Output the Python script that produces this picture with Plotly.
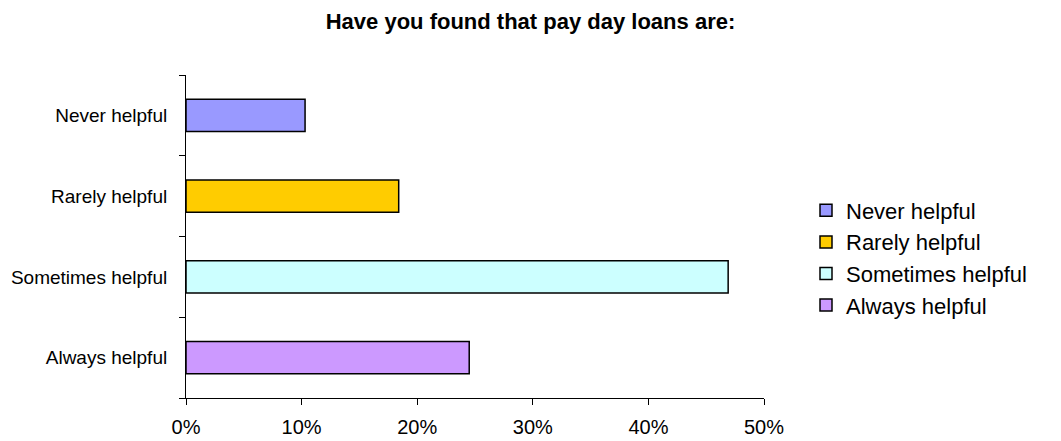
import plotly.graph_objects as go

# Survey responses: share of respondents per answer
categories = ["Never helpful", "Rarely helpful", "Sometimes helpful", "Always helpful"]
shares = [0.103, 0.184, 0.469, 0.245]
colors = ["#9999FF", "#FFCC00", "#CCFFFF", "#CC99FF"]

x_ticks = [0, 0.1, 0.2, 0.3, 0.4, 0.5]
x_tick_labels = ["0%", "10%", "20%", "30%", "40%", "50%"]

FONT = "Liberation Sans, Arial, sans-serif"

fig = go.Figure()
for cat, val, col in zip(categories, shares, colors):
    fig.add_trace(go.Bar(
        y=[cat], x=[val], name=cat, orientation="h",
        width=0.4,
        marker=dict(color=col, line=dict(color="black", width=1.5)),
    ))

fig.update_layout(
    width=1061, height=441,
    margin=dict(l=186, r=297, t=75, b=43, autoexpand=False),
    paper_bgcolor="white", plot_bgcolor="white",
    barmode="overlay",
    font=dict(family=FONT, color="black"),
    title=dict(
        text="<b>Have you found that pay day loans are:</b>",
        font=dict(family=FONT, size=22, color="black"),
        x=0.5, xref="container", xanchor="center",
        y=1 - 21 / 441, yref="container", yanchor="middle",
    ),
    legend=dict(
        x=806 / 1061, xref="container", xanchor="left",
        y=1 - 258 / 441, yref="container", yanchor="middle",
        font=dict(family=FONT, size=22, color="black"),
        itemwidth=30, tracegroupgap=0,
        bgcolor="rgba(0,0,0,0)",
    ),
    showlegend=True,
)

fig.update_xaxes(
    range=[0, 0.5],
    tickvals=x_ticks, ticktext=x_tick_labels,
    ticks="outside", ticklen=6, tickcolor="black",
    tickfont=dict(family=FONT, size=20, color="black"),
    showline=True, linecolor="black", linewidth=1,
    showgrid=False, zeroline=False,
    ticklabelstandoff=5, automargin=False,
)
fig.update_yaxes(
    categoryorder="array",
    categoryarray=list(reversed(categories)),
    range=[-0.5, 3.5],
    tickson="boundaries",
    ticks="outside", ticklen=6, tickcolor="black",
    tickfont=dict(family=FONT, size=19, color="black"),
    showline=True, linecolor="black", linewidth=1,
    showgrid=False, zeroline=False,
    ticklabelstandoff=14, automargin=False,
)

fig.write_html("out.html")
